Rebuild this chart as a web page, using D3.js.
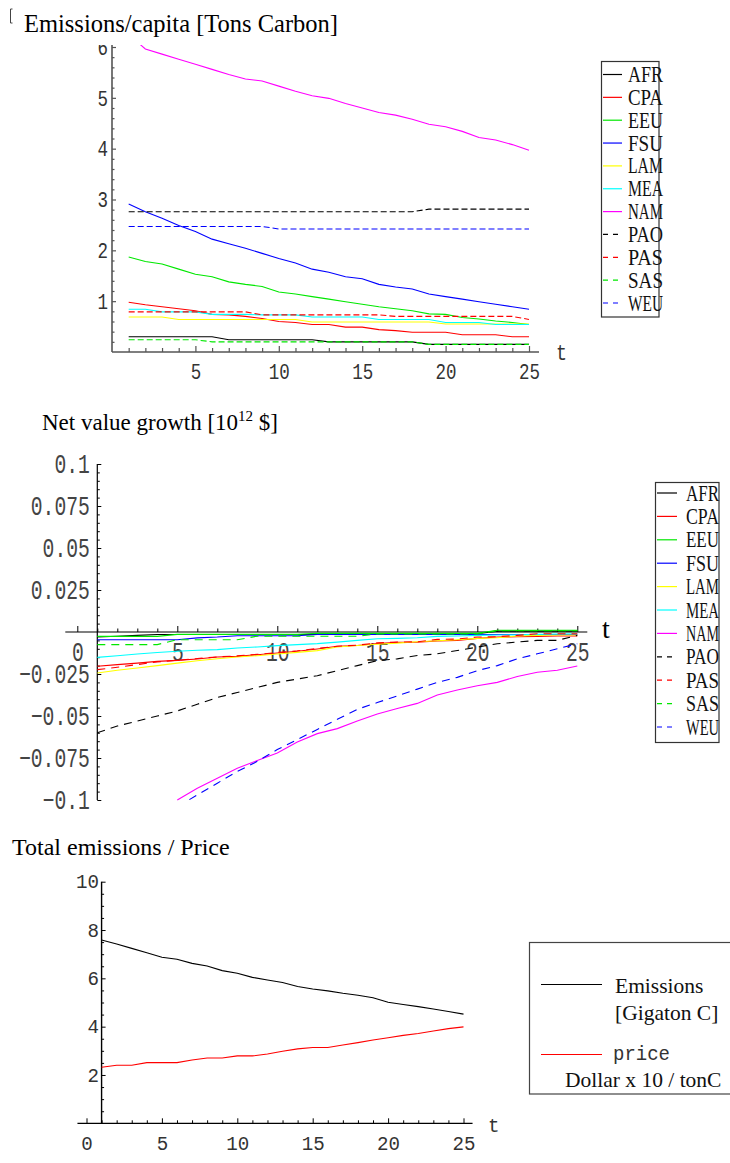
<!DOCTYPE html>
<html>
<head>
<meta charset="utf-8" />
<title></title>
<script src="https://d3js.org/d3.v7.min.js"></script>
<style>
  body { margin: 0; background: #fff; }
  svg { display: block; background: #fff; }
  .ttl { font-family: "Liberation Serif", serif; fill: #000; }
  .leg text { font-family: "Liberation Serif", serif; fill: #111; }
</style>
</head>
<body>
<div id="chart"></div>
<script>
// time steps
var t = [1,2,3,4,5,6,7,8,9,10,11,12,13,14,15,16,17,18,19,20,21,22,23,24,25];
var regions = ["AFR","CPA","EEU","FSU","LAM","MEA","NAM","PAO","PAS","SAS","WEU"];

// emissions per capita [tons C]
var emAFR = [0.30,0.30,0.30,0.30,0.30,0.30,0.24,0.24,0.24,0.24,0.24,0.24,0.20,0.20,0.20,0.20,0.20,0.20,0.15,0.15,0.15,0.15,0.15,0.15,0.15];
var emCPA = [0.98,0.93,0.89,0.85,0.81,0.74,0.73,0.70,0.66,0.60,0.58,0.54,0.54,0.49,0.49,0.44,0.42,0.39,0.39,0.39,0.34,0.34,0.34,0.30,0.30];
var emEEU = [1.87,1.78,1.73,1.63,1.53,1.48,1.38,1.33,1.29,1.18,1.14,1.09,1.04,0.99,0.94,0.89,0.85,0.81,0.75,0.74,0.68,0.65,0.61,0.58,0.54];
var emFSU = [2.91,2.76,2.63,2.49,2.37,2.22,2.13,2.04,1.94,1.84,1.75,1.63,1.57,1.48,1.44,1.33,1.28,1.24,1.14,1.09,1.04,0.99,0.94,0.89,0.84];
var emLAM = [0.69,0.69,0.69,0.64,0.64,0.64,0.64,0.64,0.64,0.64,0.64,0.59,0.59,0.59,0.59,0.59,0.59,0.59,0.59,0.55,0.55,0.55,0.55,0.55,0.55];
var emMEA = [0.84,0.84,0.79,0.79,0.79,0.74,0.74,0.74,0.73,0.73,0.73,0.69,0.69,0.69,0.69,0.64,0.64,0.64,0.64,0.58,0.58,0.58,0.54,0.54,0.54];
var emNAM = [6.25,5.96,5.86,5.76,5.66,5.56,5.46,5.37,5.33,5.23,5.13,5.04,4.99,4.89,4.80,4.71,4.66,4.58,4.48,4.43,4.34,4.22,4.17,4.08,3.97];
var emPAO = [2.76,2.76,2.76,2.76,2.76,2.76,2.76,2.76,2.76,2.76,2.76,2.76,2.76,2.76,2.76,2.76,2.76,2.76,2.81,2.81,2.81,2.81,2.81,2.81,2.81];
var emPAS = [0.79,0.79,0.79,0.79,0.79,0.79,0.79,0.79,0.73,0.73,0.73,0.73,0.73,0.73,0.73,0.73,0.70,0.70,0.70,0.70,0.70,0.70,0.70,0.70,0.64];
var emSAS = [0.24,0.24,0.24,0.24,0.24,0.20,0.20,0.20,0.20,0.20,0.20,0.20,0.20,0.20,0.20,0.20,0.20,0.20,0.15,0.15,0.15,0.15,0.15,0.15,0.15];
var emWEU = [2.47,2.47,2.47,2.47,2.47,2.47,2.47,2.47,2.47,2.42,2.42,2.42,2.42,2.42,2.42,2.42,2.42,2.42,2.42,2.42,2.42,2.42,2.42,2.42,2.42];

// net value growth [10^12 $]
var nvAFR = [-0.0030,-0.0025,-0.0020,-0.0015,-0.0015,-0.0015,-0.0015,-0.0015,-0.0015,-0.0015,-0.0015,-0.0015,-0.0010,-0.0010,-0.0010,-0.0010,-0.0010,-0.0010,-0.0010,-0.0010,0.0005,0.0005,0.0005,0.0005,0.0005];
var nvCPA = [-0.0204,-0.0194,-0.0185,-0.0175,-0.0169,-0.0161,-0.0149,-0.0145,-0.0135,-0.0125,-0.0115,-0.0101,-0.0085,-0.0080,-0.0068,-0.0062,-0.0060,-0.0054,-0.0050,-0.0038,-0.0030,-0.0028,-0.0026,-0.0024,-0.0024];
var nvEEU = [-0.0026,-0.0026,-0.0026,-0.0026,-0.0014,-0.0014,-0.0014,-0.0014,-0.0014,-0.0014,-0.0014,-0.0008,-0.0008,-0.0008,-0.0008,-0.0008,-0.0008,-0.0008,-0.0008,-0.0008,0.0010,0.0010,0.0010,0.0010,0.0010];
var nvFSU = [-0.0046,-0.0046,-0.0046,-0.0046,-0.0046,-0.0035,-0.0030,-0.0022,-0.0022,-0.0022,-0.0022,-0.0015,-0.0015,-0.0015,-0.0015,-0.0015,-0.0015,-0.0015,-0.0015,-0.0015,-0.0015,-0.0015,-0.0015,-0.0015,-0.0015];
var nvLAM = [-0.0244,-0.0228,-0.0214,-0.0200,-0.0185,-0.0171,-0.0159,-0.0149,-0.0141,-0.0131,-0.0121,-0.0111,-0.0089,-0.0080,-0.0073,-0.0066,-0.0058,-0.0052,-0.0046,-0.0038,-0.0034,-0.0024,-0.0020,-0.0018,-0.0018];
var nvMEA = [-0.0151,-0.0141,-0.0131,-0.0122,-0.0115,-0.0109,-0.0105,-0.0095,-0.0089,-0.0081,-0.0075,-0.0069,-0.0060,-0.0050,-0.0040,-0.0038,-0.0034,-0.0026,-0.0024,-0.0020,-0.0018,-0.0016,-0.0014,-0.0012,-0.0010];
var nvNAM = [null,null,null,null,-0.1000,-0.0930,-0.0870,-0.0811,-0.0765,-0.0720,-0.0655,-0.0605,-0.0575,-0.0530,-0.0488,-0.0455,-0.0425,-0.0375,-0.0345,-0.0320,-0.0300,-0.0265,-0.0240,-0.0228,-0.0202];
var nvPAO = [-0.0600,-0.0560,-0.0530,-0.0500,-0.0470,-0.0430,-0.0390,-0.0360,-0.0330,-0.0300,-0.0280,-0.0260,-0.0230,-0.0200,-0.0170,-0.0160,-0.0140,-0.0130,-0.0110,-0.0090,-0.0070,-0.0060,-0.0050,-0.0050,-0.0020];
var nvPAS = [-0.0224,-0.0210,-0.0194,-0.0178,-0.0168,-0.0158,-0.0148,-0.0142,-0.0133,-0.0122,-0.0112,-0.0098,-0.0085,-0.0078,-0.0065,-0.0060,-0.0058,-0.0044,-0.0042,-0.0030,-0.0028,-0.0020,-0.0010,-0.0010,-0.0010];
var nvSAS = [-0.0075,-0.0075,-0.0075,-0.0075,-0.0046,-0.0046,-0.0046,-0.0046,-0.0025,-0.0025,-0.0025,-0.0025,-0.0025,-0.0025,-0.0012,-0.0012,-0.0012,-0.0012,-0.0012,-0.0012,0.0008,0.0008,0.0008,0.0008,0.0008];
var nvWEU = [null,null,null,null,-0.1040,-0.0970,-0.0900,-0.0830,-0.0770,-0.0700,-0.0640,-0.0580,-0.0520,-0.0460,-0.0420,-0.0380,-0.0340,-0.0300,-0.0270,-0.0230,-0.0200,-0.0160,-0.0130,-0.0100,-0.0070];

// total emissions [GtC] and price [10 $/tC]
var totEmis = [7.59,7.42,7.24,7.06,6.87,6.79,6.62,6.51,6.32,6.21,6.04,5.93,5.83,5.66,5.56,5.48,5.38,5.30,5.20,5.01,4.92,4.83,4.73,4.63,4.52];
var price = [2.32,2.40,2.40,2.51,2.51,2.51,2.62,2.70,2.70,2.79,2.79,2.87,2.98,3.08,3.14,3.14,3.24,3.34,3.45,3.54,3.64,3.72,3.82,3.92,3.99];

var emSeries = [emAFR,emCPA,emEEU,emFSU,emLAM,emMEA,emNAM,emPAO,emPAS,emSAS,emWEU];
var nvSeries = [nvAFR,nvCPA,nvEEU,nvFSU,nvLAM,nvMEA,nvNAM,nvPAO,nvPAS,nvSAS,nvWEU];

var colors = ["#000","#f00","#00e800","#00f","#ff0","#0ff","#f0f","#000","#f00","#00e800","#00f"];
var dashed = [false,false,false,false,false,false,false,true,true,true,true];

var svg = d3.select("#chart").append("svg").attr("width", 730).attr("height", 1163);
var defs = svg.append("defs");

function addClip(id, x, y, w, h) {
    defs.append("clipPath").attr("id", id).append("rect")
        .attr("x", x).attr("y", y).attr("width", w).attr("height", h);
}

function drawLine(g, x, y, vals, color, dash) {
    var pts = vals.map(function(v, i) { return {t: t[i], v: v}; });
    g.append("path").datum(pts)
        .attr("fill", "none")
        .attr("stroke", color)
        .attr("stroke-width", 1.1)
        .attr("stroke-dasharray", dash || null)
        .attr("d", d3.line().defined(function(d) { return d.v !== null; })
            .x(function(d) { return x(d.t); })
            .y(function(d) { return y(d.v); }));
}

function styleText(sel, o) {
    sel.style("font-family", "'Liberation Mono', monospace")
        .attr("font-size", o.fs)
        .style("fill", o.tc || "#333")
        .attr("lengthAdjust", "spacingAndGlyphs")
        .attr("textLength", function() { return this.textContent.length * o.adv; });
}

// Mathematica-like axes: ticks inside, labels outside
function yAxis(g, y, x0, major, minor, fmt, o) {
    var a = g.append("g").attr("transform", "translate(" + x0 + ",0)")
        .call(d3.axisLeft(y).tickValues(major).tickFormat(fmt)
            .tickSizeInner(-o.maj).tickSizeOuter(0).tickPadding(o.pad));
    a.select(".domain").remove();
    a.selectAll("line").attr("stroke", o.color).attr("stroke-width", o.sw);
    styleText(a.selectAll("text"), o);
    var b = g.append("g").attr("transform", "translate(" + x0 + ",0)")
        .call(d3.axisLeft(y).tickValues(minor).tickFormat("")
            .tickSizeInner(-o.min).tickSizeOuter(0));
    b.select(".domain").remove();
    b.selectAll("line").attr("stroke", o.color).attr("stroke-width", o.sw);
}

function xAxis(g, x, y0, major, minor, fmt, o) {
    var a = g.append("g").attr("transform", "translate(0," + y0 + ")")
        .call(d3.axisBottom(x).tickValues(major).tickFormat(fmt)
            .tickSizeInner(-o.maj).tickSizeOuter(0).tickPadding(o.pad));
    a.select(".domain").remove();
    a.selectAll("line").attr("stroke", o.color).attr("stroke-width", o.sw);
    styleText(a.selectAll("text"), o);
    var b = g.append("g").attr("transform", "translate(0," + y0 + ")")
        .call(d3.axisBottom(x).tickValues(minor).tickFormat("")
            .tickSizeInner(-o.min).tickSizeOuter(0));
    b.select(".domain").remove();
    b.selectAll("line").attr("stroke", o.color).attr("stroke-width", o.sw);
}

function legendBox(x0, y0, w, h, rowY, rowH, lineX0, lineX1, textX, textLen) {
    var lg = svg.append("g").attr("class", "leg");
    lg.append("rect").attr("x", x0).attr("y", y0).attr("width", w).attr("height", h)
        .attr("fill", "none").attr("stroke", "#333").attr("stroke-width", 1.2);
    regions.forEach(function(r, i) {
        var yy = rowY + i * rowH;
        lg.append("line").attr("x1", lineX0).attr("x2", lineX1).attr("y1", yy).attr("y2", yy)
            .attr("stroke", colors[i]).attr("stroke-width", 1.2)
            .attr("stroke-dasharray", dashed[i] ? "5,5" : null);
        lg.append("text").attr("x", textX).attr("y", yy + 7.5)
            .attr("font-size", 22.5)
            .attr("textLength", textLen).attr("lengthAdjust", "spacingAndGlyphs")
            .text(r);
    });
}

// ---------- top: emissions per capita ----------
svg.append("path").attr("d", "M12.5,9 H10.5 V23 H12.5").attr("fill", "none").attr("stroke", "#444");
svg.append("text").attr("class", "ttl").attr("x", 24).attr("y", 32).attr("font-size", 24.5)
    .text("Emissions/capita [Tons Carbon]");

addClip("clipTop", 0, 45, 730, 360);
var gTop = svg.append("g").attr("clip-path", "url(#clipTop)");
var xT = d3.scaleLinear().domain([0, 25]).range([112, 529]);
var yT = d3.scaleLinear().domain([0, 6]).range([352, 47]);
var topAx = {maj: 4, min: 2.5, pad: 4, fs: 22.5, adv: 10.5, color: "#555", sw: 1.2};
gTop.append("line").attr("x1", xT(0)).attr("x2", xT(25.6)).attr("y1", yT(0)).attr("y2", yT(0))
    .attr("stroke", "#555").attr("stroke-width", 1.4);
gTop.append("line").attr("x1", xT(0)).attr("x2", xT(0)).attr("y1", yT(0)).attr("y2", yT(6.1))
    .attr("stroke", "#555").attr("stroke-width", 1.6);
yAxis(gTop, yT, xT(0), [1,2,3,4,5,6], d3.range(0.2, 6.1, 0.2).filter(function(v) { return Math.abs(v - Math.round(v)) > 0.01; }),
    d3.format("d"), topAx);
xAxis(gTop, xT, yT(0), [5,10,15,20,25], d3.range(1, 26).filter(function(v) { return v % 5; }),
    d3.format("d"), {maj: 6, min: 4, pad: 11, fs: 22.5, adv: 10.5, color: "#555", sw: 1.2});
emSeries.forEach(function(s, i) {
    drawLine(gTop, xT, yT, s, colors[i], dashed[i] ? "6,3" : null);
});
styleText(svg.append("text").attr("x", 556).attr("y", 360).text("t"), {fs: 22.5, adv: 11});
legendBox(601.5, 61.5, 57.5, 255.5, 74.5, 22.85, 603, 622, 628, 35);

// ---------- middle: net value growth ----------
var tt = svg.append("text").attr("class", "ttl").attr("x", 42).attr("y", 430).attr("font-size", 23);
tt.append("tspan").text("Net value growth [10");
tt.append("tspan").attr("font-size", 15).attr("dy", -9).text("12");
tt.append("tspan").attr("dy", 9).text(" $]");

var gMid = svg.append("g");
var xM = d3.scaleLinear().domain([0, 25]).range([77.3, 577.3]);
var yM = d3.scaleLinear().domain([-0.1, 0.1]).range([800, 464]);
gMid.append("line").attr("x1", xM(-0.6)).attr("x2", xM(25.5)).attr("y1", yM(0)).attr("y2", yM(0))
    .attr("stroke", "#000").attr("stroke-width", 1.2);
gMid.append("line").attr("x1", xM(1)).attr("x2", xM(1)).attr("y1", yM(-0.1)).attr("y2", yM(0.1))
    .attr("stroke", "#000").attr("stroke-width", 1.2);
var nvMajor = [-0.1,-0.075,-0.05,-0.025,0.025,0.05,0.075,0.1];
var nvMinor = d3.range(-20, 21).filter(function(k) { return k % 5; }).map(function(k) { return k * 0.005; });
yAxis(gMid, yM, xM(1), nvMajor, nvMinor, d3.format("~g"),
    {maj: 4, min: 2.5, pad: 7.5, fs: 27, adv: 11.8, color: "#000", sw: 1, tc: "#444"});
xAxis(gMid, xM, yM(0), [0,5,10,15,20,25], d3.range(0, 26).filter(function(v) { return v % 5; }),
    d3.format("d"), {maj: 6, min: 3.5, pad: 10, fs: 27, adv: 11.8, color: "#000", sw: 1, tc: "#444"});
addClip("clipMid", 90, 463, 520, 338);
var gMidS = svg.append("g").attr("clip-path", "url(#clipMid)");
nvSeries.forEach(function(s, i) {
    drawLine(gMidS, xM, yM, s, colors[i], dashed[i] ? "8,6" : null);
});
svg.append("text").attr("class", "ttl").attr("x", 602).attr("y", 638).attr("font-size", 28).text("t");
legendBox(655.5, 482.5, 63.5, 260, 493, 23.4, 657, 677, 686, 33);

// ---------- bottom: total emissions / price ----------
svg.append("text").attr("class", "ttl").attr("x", 12).attr("y", 855).attr("font-size", 24)
    .text("Total emissions / Price");
var gBot = svg.append("g");
var xB = d3.scaleLinear().domain([0, 25]).range([86.5, 463.5]);
var yB = d3.scaleLinear().domain([0, 10]).range([1123.3, 881.7]);
gBot.append("line").attr("x1", xB(-0.6)).attr("x2", xB(25.6)).attr("y1", yB(0)).attr("y2", yB(0))
    .attr("stroke", "#000").attr("stroke-width", 1.2);
gBot.append("line").attr("x1", xB(1)).attr("x2", xB(1)).attr("y1", yB(0)).attr("y2", yB(10))
    .attr("stroke", "#000").attr("stroke-width", 1.4);
yAxis(gBot, yB, xB(1), [2,4,6,8,10], d3.range(0.5, 10, 0.5).filter(function(v) { return v % 2; }),
    d3.format("d"), {maj: 4, min: 2.5, pad: 2.5, fs: 19.5, adv: 11.5, color: "#000", sw: 1, tc: "#333"});
xAxis(gBot, xB, yB(0), [0,5,10,15,20,25], d3.range(0, 26).filter(function(v) { return v % 5; }),
    d3.format("d"), {maj: 5, min: 3, pad: 13, fs: 19.5, adv: 11.5, color: "#000", sw: 1, tc: "#333"});
drawLine(gBot, xB, yB, totEmis, "#000", null);
drawLine(gBot, xB, yB, price, "#f00", null);
styleText(svg.append("text").attr("x", 488).attr("y", 1132).text("t"), {fs: 19.5, adv: 11.5, tc: "#333"});

var lb = svg.append("g").attr("class", "leg");
lb.append("rect").attr("x", 529.5).attr("y", 942.5).attr("width", 220).attr("height", 151.5)
    .attr("fill", "none").attr("stroke", "#444").attr("stroke-width", 1.2);
lb.append("line").attr("x1", 541).attr("x2", 602).attr("y1", 984.5).attr("y2", 984.5).attr("stroke", "#000");
lb.append("text").attr("x", 615).attr("y", 993).attr("font-size", 21.5).text("Emissions");
lb.append("text").attr("x", 615).attr("y", 1020).attr("font-size", 21.5).text("[Gigaton C]");
lb.append("line").attr("x1", 541).attr("x2", 602).attr("y1", 1054.5).attr("y2", 1054.5).attr("stroke", "#f00");
styleText(lb.append("text").attr("x", 613).attr("y", 1060).text("price"), {fs: 19.5, adv: 11.4, tc: "#333"});
lb.append("text").attr("x", 565).attr("y", 1087).attr("font-size", 21.5).text("Dollar x 10 / tonC");
</script>
</body>
</html>
